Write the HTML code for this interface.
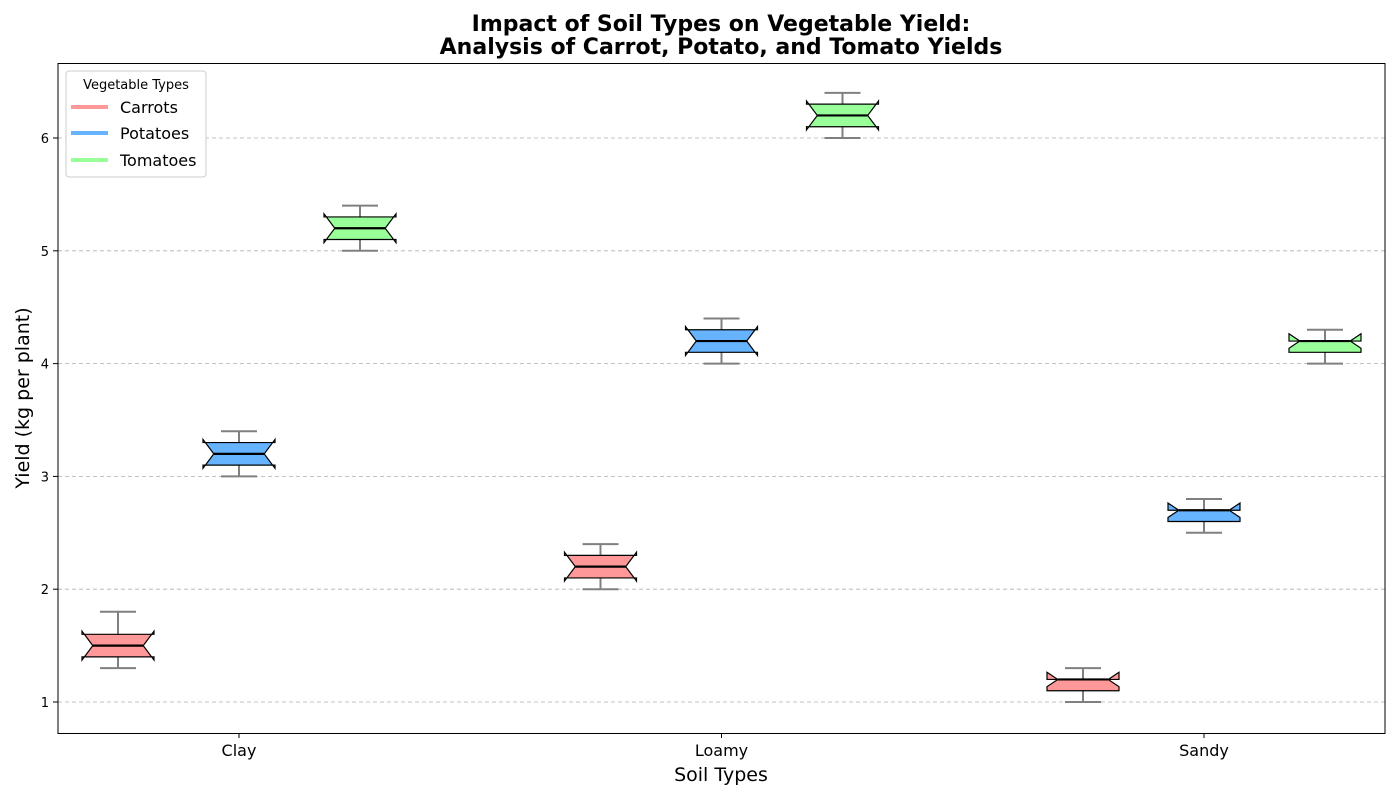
<!DOCTYPE html>
<html><head><meta charset="utf-8"><style>
body{margin:0;background:#fff;}
svg{font-family:"DejaVu Sans","Liberation Sans",sans-serif;}
</style></head><body>
<svg id="chart" width="1400" height="800">
<text x="721" y="31" text-anchor="middle" font-size="22" font-weight="bold">Impact of Soil Types on Vegetable Yield:</text>
<text x="721" y="54" text-anchor="middle" font-size="22" font-weight="bold">Analysis of Carrot, Potato, and Tomato Yields</text>
<g id="grid"></g><g id="marks"></g><g id="axes"></g>
<rect x="58" y="63.5" width="1327" height="670" fill="none" stroke="#000" stroke-width="1"/>
<text x="721" y="781" text-anchor="middle" font-size="19">Soil Types</text>
<text transform="translate(29,398) rotate(-90)" text-anchor="middle" font-size="19">Yield (kg per plant)</text>
<g>
<rect x="66" y="71" width="140" height="106" rx="3" fill="#fff" stroke="#ccc"/>
<text x="136" y="89" text-anchor="middle" font-size="13">Vegetable Types</text>
<line x1="71" y1="107" x2="108" y2="107" stroke="#ff9999" stroke-width="4"/>
<text x="120" y="113" font-size="16">Carrots</text>
<line x1="71" y1="133" x2="108" y2="133" stroke="#66b3ff" stroke-width="4"/>
<text x="120" y="139" font-size="16">Potatoes</text>
<line x1="71" y1="160" x2="108" y2="160" stroke="#99ff99" stroke-width="4"/>
<text x="120" y="166" font-size="16">Tomatoes</text>
</g>
</svg>
<script>
const categories=["Clay","Loamy","Sandy"];
const series=["Carrots","Potatoes","Tomatoes"];
const colors=["#ff9999","#66b3ff","#99ff99"];
// [whiskerLow, q1, median, q3, whiskerHigh] per category per series
const carrots=[[1.3,1.4,1.5,1.6,1.8],[2.0,2.1,2.2,2.3,2.4],[1.0,1.1,1.2,1.2,1.3]];
const potatoes=[[3.0,3.1,3.2,3.3,3.4],[4.0,4.1,4.2,4.3,4.4],[2.5,2.6,2.7,2.7,2.8]];
const tomatoes=[[5.0,5.1,5.2,5.3,5.4],[6.0,6.1,6.2,6.3,6.4],[4.0,4.1,4.2,4.2,4.3]];
const yTicks=[1,2,3,4,5,6];
const sampleN=6;
const data=[carrots,potatoes,tomatoes];
const NS="http://www.w3.org/2000/svg";
function y(v){return 702-(v-1)*112.8;}
function catX(i){return 239+i*482.5;}
function boxX(i,s){return catX(i)+(s-1)*121;}
function mk(t,a,p){const e=document.createElementNS(NS,t);for(const k in a)e.setAttribute(k,a[k]);p.appendChild(e);return e;}
const grid=document.getElementById('grid'),marks=document.getElementById('marks'),axes=document.getElementById('axes');
yTicks.forEach(t=>{
 const g=mk('line',{x1:58,x2:1385,y1:y(t),y2:y(t),stroke:'#b0b0b0','stroke-dasharray':'4,3','stroke-width':0.8},grid);
 
 
 const tk=mk('line',{x1:53,x2:58,y1:y(t),y2:y(t),stroke:'#000'},axes);
 
 
 const l=mk('text',{x:49,y:y(t)+5,'text-anchor':'end','font-size':13},axes);l.textContent=t;
 
 
});
categories.forEach((c,i)=>{
 const tk=mk('line',{x1:catX(i),x2:catX(i),y1:733,y2:738,stroke:'#000'},axes);
 
 
 const l=mk('text',{x:catX(i),y:756,'text-anchor':'middle','font-size':16},axes);l.textContent=c;
 
 
});
const hw=36;
series.forEach((s,si)=>{
 data[si].forEach((d,ci)=>{
  const cx=boxX(ci,si);
  const [lo,q1,med,q3,hi]=d;
  const notch=1.57*(q3-q1)/Math.sqrt(sampleN);
  const nl=med-notch,nh=med+notch;
  const g=mk('g',{},marks);
  
  
  const st={stroke:'#808080','stroke-width':2};
  mk('line',Object.assign({x1:cx,x2:cx,y1:y(q3),y2:y(hi)},st),g);
  mk('line',Object.assign({x1:cx,x2:cx,y1:y(q1),y2:y(lo)},st),g);
  mk('line',Object.assign({x1:cx-18,x2:cx+18,y1:y(hi),y2:y(hi)},st),g);
  mk('line',Object.assign({x1:cx-18,x2:cx+18,y1:y(lo),y2:y(lo)},st),g);
  const L=cx-hw,R=cx+hw,nw=hw*0.7;
  const pts=[[L,q1],[L,nl],[cx-nw,med],[L,nh],[L,q3],[R,q3],[R,nh],[cx+nw,med],[R,nl],[R,q1]];
  mk('polygon',{points:pts.map(p=>p[0]+','+y(p[1])).join(' '),fill:colors[si],stroke:'#000','stroke-width':1.2},g);
  mk('line',{x1:cx-nw,x2:cx+nw,y1:y(med),y2:y(med),stroke:'#000','stroke-width':2.2},g);
 });
});
</script>
</body></html>
